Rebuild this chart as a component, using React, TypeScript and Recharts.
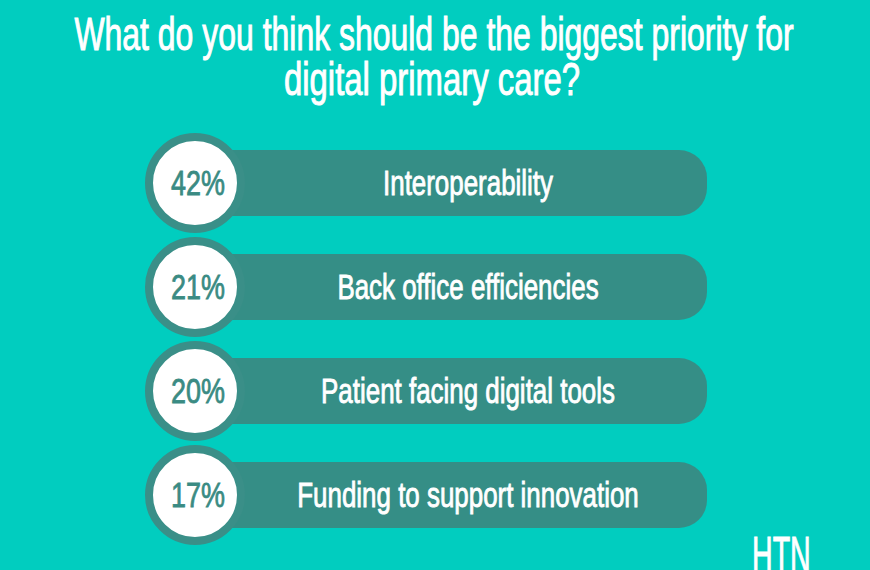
import { BarChart, Bar, XAxis, YAxis } from 'recharts';

const categories = [
  'Interoperability',
  'Back office efficiencies',
  'Patient facing digital tools',
  'Funding to support innovation',
];
const shares = [42, 21, 20, 17];
const titleLines = ['What do you think should be the biggest priority for', 'digital primary care?'];
const brand = 'HTN';

const data = categories.map((name, i) => ({ name, share: shares[i] }));

const BG = '#01cdbf';
const TRACK = '#358e86';
const RING = '#3a8f88';
const PCT = '#3a8b83';
const FONT = "'Liberation Sans', Arial, sans-serif";

// narrow the regular sans so it reads like the condensed face in the original
function NarrowText({ x, y, size, scale, fill, weight = 0.9, anchor = 'middle', children }: any) {
  return (
    <text
      transform={`translate(${x} ${y}) scale(${scale} 1)`}
      textAnchor={anchor}
      fontFamily={FONT}
      fontSize={size}
      fill={fill}
      stroke={fill}
      strokeWidth={weight}
    >
      {children}
    </text>
  );
}

function Track(props: any) {
  const { x, y, width, height, payload } = props;
  const cy = y + height / 2;
  const cx = x + (width + 50) / 2 - 8;
  return (
    <g>
      <rect x={x} y={y} width={width} height={height} rx={28} ry={28} fill={TRACK} />
      <NarrowText x={cx} y={cy + 12} size={36} scale={0.72} fill="#ffffff">
        {payload.name}
      </NarrowText>
    </g>
  );
}

function Badge(props: any) {
  const { x, y, height, payload } = props;
  const cy = y + height / 2;
  return (
    <g>
      <circle cx={x} cy={cy} r={46} fill="#ffffff" stroke={RING} strokeWidth={8} />
      <NarrowText x={x + 3} y={cy + 12} size={35} scale={0.77} fill={PCT} weight={0.8}>
        {`${payload.share}%`}
      </NarrowText>
    </g>
  );
}

export default function App() {
  return (
    <div style={{ position: 'absolute', left: 0, top: 0, width: 870, height: 570, background: BG, overflow: 'hidden' }}>
      <BarChart
        width={870}
        height={570}
        data={data}
        layout="vertical"
        margin={{ top: 131, right: 163, bottom: 23, left: 195 }}
      >
        <XAxis type="number" domain={[0, 100]} hide />
        <YAxis type="category" dataKey="name" hide width={0} />
        <Bar
          dataKey="share"
          barSize={66}
          background={(p: any) => <Track {...p} />}
          shape={(p: any) => <Badge {...p} />}
          isAnimationActive={false}
        />
      </BarChart>
      <svg width={870} height={570} style={{ position: 'absolute', left: 0, top: 0, pointerEvents: 'none' }}>
        <NarrowText x={434} y={50} size={47} scale={0.68} fill="#ffffff" weight={1}>
          {titleLines[0]}
        </NarrowText>
        <NarrowText x={432} y={95} size={47} scale={0.7} fill="#ffffff" weight={1}>
          {titleLines[1]}
        </NarrowText>
        <NarrowText x={752} y={573} size={52} scale={0.55} fill="#ffffff" anchor="start" weight={1}>
          {brand}
        </NarrowText>
      </svg>
    </div>
  );
}
